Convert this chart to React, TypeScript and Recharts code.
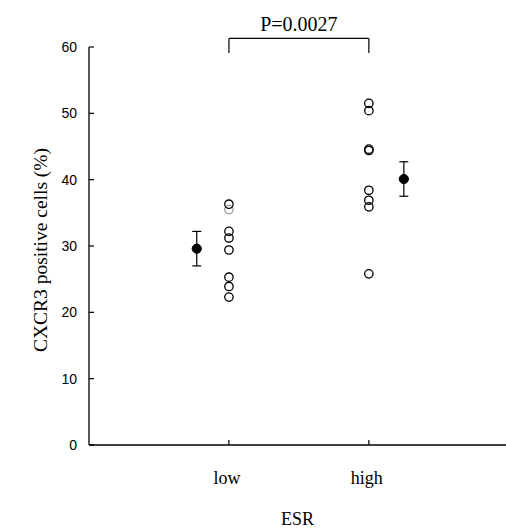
import React from 'react';
import { ScatterChart, Scatter, XAxis, YAxis, ErrorBar, ReferenceLine, Label } from 'recharts';

const categories = ['low', 'high'];
const categoryX = [1, 2];
const lowValues = [36.3, 32.2, 31.2, 29.4, 25.3, 23.9, 22.3];
const lowFaintValues = [35.5];
const highValues = [51.5, 50.4, 44.6, 44.4, 38.4, 36.9, 35.9, 25.8];
const meanX = [0.77, 2.25];
const meanValues = [29.6, 40.1];
const meanErrors = [2.6, 2.6];
const yTicks = [0, 10, 20, 30, 40, 50, 60];
const pLabel = 'P=0.0027';
const bracketTop = 61.3;
const bracketDrop = 59.1;

const lowData = lowValues.map((v) => ({ x: categoryX[0], y: v }));
const lowFaintData = lowFaintValues.map((v) => ({ x: categoryX[0], y: v }));
const highData = highValues.map((v) => ({ x: categoryX[1], y: v }));
const meanData = meanValues.map((v, i) => ({ x: meanX[i], y: v, err: meanErrors[i] }));

const SERIF = '"Liberation Serif", "Times New Roman", serif';
const SANS = '"Liberation Sans", Arial, sans-serif';

const OpenCircle = (props: any) => (
  <circle cx={props.cx} cy={props.cy} r={4.2} fill="none" stroke="#000" strokeWidth={1.3} />
);
const FaintCircle = (props: any) => (
  <circle cx={props.cx} cy={props.cy} r={4.2} fill="none" stroke="#888" strokeWidth={1.1} />
);
const FilledCircle = (props: any) => (
  <circle cx={props.cx} cy={props.cy} r={4.6} fill="#000" stroke="#000" />
);

const YTick = (props: any) => {
  const { x, y, payload } = props;
  return (
    <g>
      <line x1={x} y1={y} x2={x + 5} y2={y} stroke="#000" strokeWidth={1.2} />
      <text x={x - 12} y={y + 5} textAnchor="end" fontFamily={SANS} fontSize={14} fill="#000">
        {payload.value}
      </text>
    </g>
  );
};

const XTick = (props: any) => {
  const { x, y, payload } = props;
  const idx = categoryX.indexOf(payload.value);
  return (
    <g>
      <line x1={x} y1={y} x2={x} y2={y - 5} stroke="#000" strokeWidth={1.2} />
      <text x={x - 2} y={y + 39} textAnchor="middle" fontFamily={SERIF} fontSize={18} fill="#000">
        {idx >= 0 ? categories[idx] : ''}
      </text>
    </g>
  );
};

export default function App() {
  return (
    <div style={{ position: 'absolute', left: 0, top: 0, background: '#fff' }}>
      <ScatterChart width={506} height={529} margin={{ top: 47, right: 0, left: 0, bottom: 0 }}>
        <XAxis
          type="number"
          dataKey="x"
          domain={[0, 2.98]}
          ticks={categoryX}
          allowDataOverflow
          height={84}
          tickSize={0}
          tickMargin={0}
          tickLine={false}
          tick={<XTick />}
          axisLine={{ stroke: '#000', strokeWidth: 1.3 }}
        >
          <Label
            value="ESR"
            position="insideBottom"
            offset={4}
            style={{ fontFamily: SERIF, fontSize: 18, fill: '#000' }}
          />
        </XAxis>
        <YAxis
          type="number"
          dataKey="y"
          domain={[0, 60]}
          ticks={yTicks}
          width={89}
          tickSize={0}
          tickMargin={0}
          tickLine={false}
          tick={<YTick />}
          axisLine={{ stroke: '#000', strokeWidth: 1.3 }}
        >
          <Label
            value="CXCR3 positive cells (%)"
            angle={-90}
            position="center"
            dx={-4}
            dy={4}
            style={{ fontFamily: SERIF, fontSize: 19.5, fill: '#000' }}
          />
        </YAxis>
        <ReferenceLine
          segment={[{ x: categoryX[0], y: bracketTop }, { x: categoryX[1], y: bracketTop }]}
          ifOverflow="visible"
          stroke="#000"
          strokeWidth={1.2}
        >
          <Label
            value={pLabel}
            position="top"
            offset={7}
            style={{ fontFamily: SERIF, fontSize: 20, fill: '#000' }}
          />
        </ReferenceLine>
        <ReferenceLine
          segment={[{ x: categoryX[0], y: bracketTop }, { x: categoryX[0], y: bracketDrop }]}
          ifOverflow="visible"
          stroke="#000"
          strokeWidth={1.2}
        />
        <ReferenceLine
          segment={[{ x: categoryX[1], y: bracketTop }, { x: categoryX[1], y: bracketDrop }]}
          ifOverflow="visible"
          stroke="#000"
          strokeWidth={1.2}
        />
        <Scatter data={lowFaintData} shape={<FaintCircle />} isAnimationActive={false} />
        <Scatter data={lowData} shape={<OpenCircle />} isAnimationActive={false} />
        <Scatter data={highData} shape={<OpenCircle />} isAnimationActive={false} />
        <Scatter data={meanData} shape={<FilledCircle />} isAnimationActive={false}>
          <ErrorBar dataKey="err" direction="y" width={4.5} stroke="#000" strokeWidth={1.2} />
        </Scatter>
      </ScatterChart>
    </div>
  );
}
